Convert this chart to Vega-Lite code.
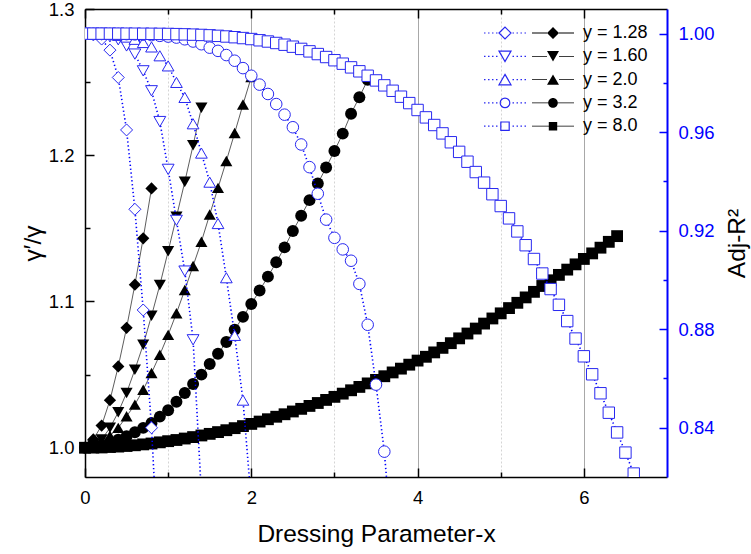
{
"$schema": "https://vega.github.io/schema/vega-lite/v6.json",
"width": 582, "height": 468,
"autosize": {"type": "none"},
"padding": {"left": 85, "top": 9, "right": 84, "bottom": 77},
"config": {"view": {"stroke": null}, "font": "Liberation Sans", "axis": {"labelFont": "Liberation Sans", "titleFont": "Liberation Sans", "titleFontWeight": "normal", "labelFlush": false, "labelOverlap": false}},
"datasets": {
"gam": [
{"s":"y = 1.28","x":0,"v":1.0},{"s":"y = 1.28","x":0.1,"v":1.0057},{"s":"y = 1.28","x":0.2,"v":1.0152},{"s":"y = 1.28","x":0.3,"v":1.0325},{"s":"y = 1.28","x":0.4,"v":1.0556},{"s":"y = 1.28","x":0.5,"v":1.082},{"s":"y = 1.28","x":0.6,"v":1.1115},{"s":"y = 1.28","x":0.7,"v":1.1432},{"s":"y = 1.28","x":0.8,"v":1.1773},
{"s":"y = 1.60","x":0,"v":1.0},{"s":"y = 1.60","x":0.1,"v":1.0015},{"s":"y = 1.60","x":0.2,"v":1.0057},{"s":"y = 1.60","x":0.3,"v":1.0136},{"s":"y = 1.60","x":0.4,"v":1.0243},{"s":"y = 1.60","x":0.5,"v":1.0375},{"s":"y = 1.60","x":0.6,"v":1.0534},{"s":"y = 1.60","x":0.7,"v":1.0704},{"s":"y = 1.60","x":0.8,"v":1.0902},{"s":"y = 1.60","x":0.9,"v":1.1113},{"s":"y = 1.60","x":1.0,"v":1.1343},{"s":"y = 1.60","x":1.1,"v":1.1579},{"s":"y = 1.60","x":1.2,"v":1.1818},{"s":"y = 1.60","x":1.3,"v":1.2068},{"s":"y = 1.60","x":1.4,"v":1.2325},
{"s":"y = 2.0","x":0,"v":1.0},{"s":"y = 2.0","x":0.1,"v":1.0012},{"s":"y = 2.0","x":0.2,"v":1.004},{"s":"y = 2.0","x":0.3,"v":1.0082},{"s":"y = 2.0","x":0.4,"v":1.0136},{"s":"y = 2.0","x":0.5,"v":1.0215},{"s":"y = 2.0","x":0.6,"v":1.0295},{"s":"y = 2.0","x":0.7,"v":1.0397},{"s":"y = 2.0","x":0.8,"v":1.0511},{"s":"y = 2.0","x":0.9,"v":1.0636},{"s":"y = 2.0","x":1.0,"v":1.0772},{"s":"y = 2.0","x":1.1,"v":1.092},{"s":"y = 2.0","x":1.2,"v":1.1079},{"s":"y = 2.0","x":1.3,"v":1.1243},{"s":"y = 2.0","x":1.4,"v":1.1409},{"s":"y = 2.0","x":1.5,"v":1.1595},{"s":"y = 2.0","x":1.6,"v":1.1777},{"s":"y = 2.0","x":1.7,"v":1.1961},{"s":"y = 2.0","x":1.8,"v":1.2152},{"s":"y = 2.0","x":1.9,"v":1.2347},{"s":"y = 2.0","x":2.0,"v":1.2534},
{"s":"y = 3.2","x":0,"v":1.0},{"s":"y = 3.2","x":0.1,"v":1.0006},{"s":"y = 3.2","x":0.2,"v":1.0018},{"s":"y = 3.2","x":0.3,"v":1.0035},{"s":"y = 3.2","x":0.4,"v":1.0055},{"s":"y = 3.2","x":0.5,"v":1.0079},{"s":"y = 3.2","x":0.6,"v":1.0106},{"s":"y = 3.2","x":0.7,"v":1.0136},{"s":"y = 3.2","x":0.8,"v":1.017},{"s":"y = 3.2","x":0.9,"v":1.0213},{"s":"y = 3.2","x":1.0,"v":1.0256},{"s":"y = 3.2","x":1.1,"v":1.0314},{"s":"y = 3.2","x":1.2,"v":1.0375},{"s":"y = 3.2","x":1.3,"v":1.0436},{"s":"y = 3.2","x":1.4,"v":1.05},{"s":"y = 3.2","x":1.5,"v":1.0573},{"s":"y = 3.2","x":1.6,"v":1.0643},{"s":"y = 3.2","x":1.7,"v":1.0723},{"s":"y = 3.2","x":1.8,"v":1.0807},{"s":"y = 3.2","x":1.9,"v":1.0895},{"s":"y = 3.2","x":2.0,"v":1.0983},{"s":"y = 3.2","x":2.1,"v":1.1075},{"s":"y = 3.2","x":2.2,"v":1.117},{"s":"y = 3.2","x":2.3,"v":1.1268},{"s":"y = 3.2","x":2.4,"v":1.137},{"s":"y = 3.2","x":2.5,"v":1.1482},{"s":"y = 3.2","x":2.6,"v":1.1586},{"s":"y = 3.2","x":2.7,"v":1.1693},{"s":"y = 3.2","x":2.8,"v":1.1807},{"s":"y = 3.2","x":2.9,"v":1.1916},{"s":"y = 3.2","x":3.0,"v":1.2029},{"s":"y = 3.2","x":3.1,"v":1.2148},{"s":"y = 3.2","x":3.2,"v":1.2284},{"s":"y = 3.2","x":3.3,"v":1.2397},{"s":"y = 3.2","x":3.4,"v":1.2516},
{"s":"y = 8.0","x":0,"v":1.0},{"s":"y = 8.0","x":0.1,"v":1.0001},{"s":"y = 8.0","x":0.2,"v":1.0002},{"s":"y = 8.0","x":0.3,"v":1.0005},{"s":"y = 8.0","x":0.4,"v":1.0008},{"s":"y = 8.0","x":0.5,"v":1.0012},{"s":"y = 8.0","x":0.6,"v":1.0017},{"s":"y = 8.0","x":0.7,"v":1.0023},{"s":"y = 8.0","x":0.8,"v":1.0029},{"s":"y = 8.0","x":0.9,"v":1.0037},{"s":"y = 8.0","x":1.0,"v":1.0045},{"s":"y = 8.0","x":1.1,"v":1.0053},{"s":"y = 8.0","x":1.2,"v":1.0063},{"s":"y = 8.0","x":1.3,"v":1.0073},{"s":"y = 8.0","x":1.4,"v":1.0084},{"s":"y = 8.0","x":1.5,"v":1.0095},{"s":"y = 8.0","x":1.6,"v":1.0107},{"s":"y = 8.0","x":1.7,"v":1.012},{"s":"y = 8.0","x":1.8,"v":1.0134},{"s":"y = 8.0","x":1.9,"v":1.0148},{"s":"y = 8.0","x":2.0,"v":1.0163},{"s":"y = 8.0","x":2.1,"v":1.0179},{"s":"y = 8.0","x":2.2,"v":1.0195},{"s":"y = 8.0","x":2.3,"v":1.0212},{"s":"y = 8.0","x":2.4,"v":1.0229},{"s":"y = 8.0","x":2.5,"v":1.0248},{"s":"y = 8.0","x":2.6,"v":1.0266},{"s":"y = 8.0","x":2.7,"v":1.0286},{"s":"y = 8.0","x":2.8,"v":1.0306},{"s":"y = 8.0","x":2.9,"v":1.0327},{"s":"y = 8.0","x":3.0,"v":1.0348},{"s":"y = 8.0","x":3.1,"v":1.037},{"s":"y = 8.0","x":3.2,"v":1.0393},{"s":"y = 8.0","x":3.3,"v":1.0416},{"s":"y = 8.0","x":3.4,"v":1.044},{"s":"y = 8.0","x":3.5,"v":1.0464},{"s":"y = 8.0","x":3.6,"v":1.0489},{"s":"y = 8.0","x":3.7,"v":1.0515},{"s":"y = 8.0","x":3.8,"v":1.0541},{"s":"y = 8.0","x":3.9,"v":1.0568},{"s":"y = 8.0","x":4.0,"v":1.0596},{"s":"y = 8.0","x":4.1,"v":1.0622},{"s":"y = 8.0","x":4.2,"v":1.0652},{"s":"y = 8.0","x":4.3,"v":1.0683},{"s":"y = 8.0","x":4.4,"v":1.0715},{"s":"y = 8.0","x":4.5,"v":1.0748},{"s":"y = 8.0","x":4.6,"v":1.0781},{"s":"y = 8.0","x":4.7,"v":1.0815},{"s":"y = 8.0","x":4.8,"v":1.0849},{"s":"y = 8.0","x":4.9,"v":1.0884},{"s":"y = 8.0","x":5.0,"v":1.0919},{"s":"y = 8.0","x":5.1,"v":1.0955},{"s":"y = 8.0","x":5.2,"v":1.0991},{"s":"y = 8.0","x":5.3,"v":1.1028},{"s":"y = 8.0","x":5.4,"v":1.1066},{"s":"y = 8.0","x":5.5,"v":1.1106},{"s":"y = 8.0","x":5.6,"v":1.1145},{"s":"y = 8.0","x":5.7,"v":1.1182},{"s":"y = 8.0","x":5.8,"v":1.1218},{"s":"y = 8.0","x":5.9,"v":1.1254},{"s":"y = 8.0","x":6.0,"v":1.1291},{"s":"y = 8.0","x":6.1,"v":1.1329},{"s":"y = 8.0","x":6.2,"v":1.1368},{"s":"y = 8.0","x":6.3,"v":1.1408},{"s":"y = 8.0","x":6.4,"v":1.1447}
],
"adj": [
{"s":"y = 1.28","x":0,"v":1.0},{"s":"y = 1.28","x":0.1,"v":0.9995},{"s":"y = 1.28","x":0.2,"v":0.9978},{"s":"y = 1.28","x":0.3,"v":0.9933},{"s":"y = 1.28","x":0.4,"v":0.9822},{"s":"y = 1.28","x":0.5,"v":0.9609},{"s":"y = 1.28","x":0.6,"v":0.9287},{"s":"y = 1.28","x":0.7,"v":0.8878},{"s":"y = 1.28","x":0.8,"v":0.84},{"s":"y = 1.28","x":0.9,"v":0.775},
{"s":"y = 1.60","x":0,"v":1.0},{"s":"y = 1.60","x":0.1,"v":0.9999},{"s":"y = 1.60","x":0.2,"v":0.9994},{"s":"y = 1.60","x":0.3,"v":0.9987},{"s":"y = 1.60","x":0.4,"v":0.9975},{"s":"y = 1.60","x":0.5,"v":0.995},{"s":"y = 1.60","x":0.6,"v":0.9917},{"s":"y = 1.60","x":0.7,"v":0.9849},{"s":"y = 1.60","x":0.8,"v":0.9768},{"s":"y = 1.60","x":0.9,"v":0.9643},{"s":"y = 1.60","x":1.0,"v":0.9449},{"s":"y = 1.60","x":1.1,"v":0.9242},{"s":"y = 1.60","x":1.2,"v":0.9036},{"s":"y = 1.60","x":1.3,"v":0.8757},{"s":"y = 1.60","x":1.4,"v":0.813},
{"s":"y = 2.0","x":0,"v":1.0},{"s":"y = 2.0","x":0.1,"v":1.0},{"s":"y = 2.0","x":0.2,"v":0.9999},{"s":"y = 2.0","x":0.3,"v":0.9997},{"s":"y = 2.0","x":0.4,"v":0.9993},{"s":"y = 2.0","x":0.5,"v":0.9986},{"s":"y = 2.0","x":0.6,"v":0.9977},{"s":"y = 2.0","x":0.7,"v":0.9964},{"s":"y = 2.0","x":0.8,"v":0.9946},{"s":"y = 2.0","x":0.9,"v":0.991},{"s":"y = 2.0","x":1.0,"v":0.9869},{"s":"y = 2.0","x":1.1,"v":0.9802},{"s":"y = 2.0","x":1.2,"v":0.9741},{"s":"y = 2.0","x":1.3,"v":0.9634},{"s":"y = 2.0","x":1.4,"v":0.9515},{"s":"y = 2.0","x":1.5,"v":0.9397},{"s":"y = 2.0","x":1.6,"v":0.9229},{"s":"y = 2.0","x":1.7,"v":0.9009},{"s":"y = 2.0","x":1.8,"v":0.8775},{"s":"y = 2.0","x":1.9,"v":0.8512},{"s":"y = 2.0","x":2.0,"v":0.81},
{"s":"y = 3.2","x":0,"v":1.0},{"s":"y = 3.2","x":0.1,"v":1.0},{"s":"y = 3.2","x":0.2,"v":1.0},{"s":"y = 3.2","x":0.3,"v":0.9999},{"s":"y = 3.2","x":0.4,"v":0.9999},{"s":"y = 3.2","x":0.5,"v":0.9998},{"s":"y = 3.2","x":0.6,"v":0.9997},{"s":"y = 3.2","x":0.7,"v":0.9996},{"s":"y = 3.2","x":0.8,"v":0.9994},{"s":"y = 3.2","x":0.9,"v":0.9991},{"s":"y = 3.2","x":1.0,"v":0.9988},{"s":"y = 3.2","x":1.1,"v":0.9984},{"s":"y = 3.2","x":1.2,"v":0.9977},{"s":"y = 3.2","x":1.3,"v":0.9968},{"s":"y = 3.2","x":1.4,"v":0.9957},{"s":"y = 3.2","x":1.5,"v":0.9943},{"s":"y = 3.2","x":1.6,"v":0.993},{"s":"y = 3.2","x":1.7,"v":0.9913},{"s":"y = 3.2","x":1.8,"v":0.989},{"s":"y = 3.2","x":1.9,"v":0.986},{"s":"y = 3.2","x":2.0,"v":0.9829},{"s":"y = 3.2","x":2.1,"v":0.9793},{"s":"y = 3.2","x":2.2,"v":0.9755},{"s":"y = 3.2","x":2.3,"v":0.9714},{"s":"y = 3.2","x":2.4,"v":0.9671},{"s":"y = 3.2","x":2.5,"v":0.962},{"s":"y = 3.2","x":2.6,"v":0.955},{"s":"y = 3.2","x":2.7,"v":0.9458},{"s":"y = 3.2","x":2.8,"v":0.935},{"s":"y = 3.2","x":2.9,"v":0.9245},{"s":"y = 3.2","x":3.0,"v":0.9171},{"s":"y = 3.2","x":3.1,"v":0.9124},{"s":"y = 3.2","x":3.2,"v":0.9078},{"s":"y = 3.2","x":3.3,"v":0.8984},{"s":"y = 3.2","x":3.4,"v":0.8818},{"s":"y = 3.2","x":3.5,"v":0.8575},{"s":"y = 3.2","x":3.6,"v":0.8303},{"s":"y = 3.2","x":3.7,"v":0.79},
{"s":"y = 8.0","x":0,"v":1.0},{"s":"y = 8.0","x":0.1,"v":1.0},{"s":"y = 8.0","x":0.2,"v":1.0},{"s":"y = 8.0","x":0.3,"v":1.0},{"s":"y = 8.0","x":0.4,"v":0.99999},{"s":"y = 8.0","x":0.5,"v":0.99998},{"s":"y = 8.0","x":0.6,"v":0.99997},{"s":"y = 8.0","x":0.7,"v":0.99995},{"s":"y = 8.0","x":0.8,"v":0.99993},{"s":"y = 8.0","x":0.9,"v":0.9999},{"s":"y = 8.0","x":1.0,"v":0.99986},{"s":"y = 8.0","x":1.1,"v":0.9998},{"s":"y = 8.0","x":1.2,"v":0.99971},{"s":"y = 8.0","x":1.3,"v":0.9996},{"s":"y = 8.0","x":1.4,"v":0.99947},{"s":"y = 8.0","x":1.5,"v":0.9993},{"s":"y = 8.0","x":1.6,"v":0.9991},{"s":"y = 8.0","x":1.7,"v":0.99884},{"s":"y = 8.0","x":1.8,"v":0.99855},{"s":"y = 8.0","x":1.9,"v":0.9982},{"s":"y = 8.0","x":2.0,"v":0.9978},{"s":"y = 8.0","x":2.1,"v":0.9973},{"s":"y = 8.0","x":2.2,"v":0.9968},{"s":"y = 8.0","x":2.3,"v":0.9962},{"s":"y = 8.0","x":2.4,"v":0.9955},{"s":"y = 8.0","x":2.5,"v":0.9947},{"s":"y = 8.0","x":2.6,"v":0.9938},{"s":"y = 8.0","x":2.7,"v":0.9928},{"s":"y = 8.0","x":2.8,"v":0.9917},{"s":"y = 8.0","x":2.9,"v":0.9905},{"s":"y = 8.0","x":3.0,"v":0.9892},{"s":"y = 8.0","x":3.1,"v":0.9878},{"s":"y = 8.0","x":3.2,"v":0.9863},{"s":"y = 8.0","x":3.3,"v":0.9847},{"s":"y = 8.0","x":3.4,"v":0.9829},{"s":"y = 8.0","x":3.5,"v":0.981},{"s":"y = 8.0","x":3.6,"v":0.979},{"s":"y = 8.0","x":3.7,"v":0.9768},{"s":"y = 8.0","x":3.8,"v":0.9744},{"s":"y = 8.0","x":3.9,"v":0.9718},{"s":"y = 8.0","x":4.0,"v":0.969},{"s":"y = 8.0","x":4.1,"v":0.966},{"s":"y = 8.0","x":4.2,"v":0.9629},{"s":"y = 8.0","x":4.3,"v":0.9595},{"s":"y = 8.0","x":4.4,"v":0.9559},{"s":"y = 8.0","x":4.5,"v":0.952},{"s":"y = 8.0","x":4.6,"v":0.948},{"s":"y = 8.0","x":4.7,"v":0.9438},{"s":"y = 8.0","x":4.8,"v":0.9395},{"s":"y = 8.0","x":4.9,"v":0.9348},{"s":"y = 8.0","x":5.0,"v":0.93},{"s":"y = 8.0","x":5.1,"v":0.925},{"s":"y = 8.0","x":5.2,"v":0.9197},{"s":"y = 8.0","x":5.3,"v":0.9141},{"s":"y = 8.0","x":5.4,"v":0.9085},{"s":"y = 8.0","x":5.5,"v":0.9026},{"s":"y = 8.0","x":5.6,"v":0.8963},{"s":"y = 8.0","x":5.7,"v":0.8899},{"s":"y = 8.0","x":5.8,"v":0.8833},{"s":"y = 8.0","x":5.9,"v":0.8762},{"s":"y = 8.0","x":6.0,"v":0.869},{"s":"y = 8.0","x":6.1,"v":0.8617},{"s":"y = 8.0","x":6.2,"v":0.854},{"s":"y = 8.0","x":6.3,"v":0.8461},{"s":"y = 8.0","x":6.4,"v":0.8381},{"s":"y = 8.0","x":6.5,"v":0.8299},{"s":"y = 8.0","x":6.6,"v":0.8214},{"s":"y = 8.0","x":6.7,"v":0.812}
]
},
"layer": [
{
"data": {"name": "gam"},
"encoding": {
"x": {"field": "x", "type": "quantitative", "scale": {"domain": [0, 7], "nice": false, "zero": false},
 "axis": {"orient": "bottom", "values": [0,1,2,3,4,5,6], "labelExpr": "datum.value % 2 === 0 ? datum.label : ''", "grid": true,
  "gridColor": {"condition": {"test": "datum.value % 2 === 0", "value": "#a8a8a8"}, "value": "#d4d4d4"},
  "gridDash": {"condition": {"test": "datum.value % 2 === 0", "value": []}, "value": [2, 2]},
  "gridWidth": 1,
  "tickSize": {"condition": {"test": "datum.value % 2 === 0", "value": -9}, "value": -5},
  "tickColor": "black", "tickWidth": 1.5, "domainColor": "black", "domainWidth": 1.5,
  "labelFontSize": 18.5, "labelColor": "black", "labelPadding": 20,
  "title": "Dressing Parameter-x", "titleFontSize": 24.5, "titleColor": "black", "titlePadding": 12}},
"y": {"field": "v", "type": "quantitative", "scale": {"domain": [0.98, 1.3], "nice": false, "zero": false},
 "axis": {"orient": "left", "values": [1.0,1.05,1.1,1.15,1.2,1.25,1.3], "grid": false,
  "labelExpr": "round(datum.value*20) % 2 === 0 ? format(datum.value, '.1f') : ''",
  "tickSize": {"condition": {"test": "round(datum.value*20) % 2 === 0", "value": -9}, "value": -5},
  "tickColor": "black", "tickWidth": 1.5, "domainColor": "black", "domainWidth": 1.5,
  "labelFontSize": 18.5, "labelColor": "black", "labelPadding": 20,
  "title": "γ′/γ", "titleFontSize": 24.5, "titleColor": "black", "titlePadding": 3}}
},
"layer": [
{"mark": {"type": "line", "color": "#333333", "strokeWidth": 0.8}, "encoding": {"detail": {"field": "s", "type": "nominal"}}},
{"mark": {"type": "point", "filled": true, "color": "black", "opacity": 1},
 "encoding": {
  "shape": {"field": "s", "type": "nominal", "scale": {"domain": ["y = 1.28","y = 1.60","y = 2.0","y = 3.2","y = 8.0"], "range": ["diamond","triangle-down","triangle-up","circle","square"]}, "legend": null},
  "size": {"field": "s", "type": "ordinal", "scale": {"domain": ["y = 1.28","y = 1.60","y = 2.0","y = 3.2","y = 8.0"], "range": [150,140,140,100,70]}, "legend": null}}}
]
},
{
"data": {"name": "adj"},
"encoding": {
"x": {"field": "x", "type": "quantitative", "scale": {"domain": [0, 7], "nice": false, "zero": false},
 "axis": {"orient": "top", "values": [0,1,2,3,4,5,6], "labels": false, "grid": false, "title": null,
  "tickSize": {"condition": {"test": "datum.value % 2 === 0", "value": -9}, "value": -5},
  "tickColor": "black", "tickWidth": 1.5, "domainColor": "black", "domainWidth": 1.5}},
"y": {"field": "v", "type": "quantitative", "scale": {"domain": [0.82, 1.01], "nice": false, "zero": false},
 "axis": {"orient": "right", "values": [0.84,0.86,0.88,0.9,0.92,0.94,0.96,0.98,1.0], "grid": false,
  "labelExpr": "round(datum.value*50) % 2 === 0 ? format(datum.value, '.2f') : ''",
  "tickSize": {"condition": {"test": "round(datum.value*50) % 2 === 0", "value": -8}, "value": -4},
  "tickColor": "#0000ff", "tickWidth": 1.5, "domainColor": "#0000ff", "domainWidth": 2,
  "labelFontSize": 18.5, "labelColor": "#0000ff", "labelPadding": 19,
  "title": "Adj-R²", "titleAngle": 270, "titleBaseline": "top", "titleFontSize": 24.5, "titleColor": "black", "titlePadding": 11}}
},
"layer": [
{"mark": {"type": "line", "color": "#0000ff", "strokeWidth": 1.6, "strokeDash": [1.3, 2.6], "clip": true}, "encoding": {"detail": {"field": "s", "type": "nominal"}}},
{"mark": {"type": "point", "filled": false, "fill": "white", "color": "#2828f0", "strokeWidth": 1, "opacity": 1, "clip": true},
 "encoding": {
  "shape": {"field": "s", "type": "nominal", "scale": {"domain": ["y = 1.28","y = 1.60","y = 2.0","y = 3.2","y = 8.0"], "range": ["diamond","triangle-down","triangle-up","circle","square"]}, "legend": null},
  "size": {"field": "s", "type": "ordinal", "scale": {"domain": ["y = 1.28","y = 1.60","y = 2.0","y = 3.2","y = 8.0"], "range": [144,130,130,90,70]}, "legend": null}}}
]
},
{
"data": {"values": []},
"mark": {"type": "point", "filled": false, "color": "#2828f0", "strokeWidth": 1.2, "opacity": 1},
"encoding": {
 "shape": {"field": "s", "type": "nominal",
  "scale": {"domain": ["y = 1.28","y = 1.60","y = 2.0","y = 3.2","y = 8.0"], "range": [
   "M-3.5 0L-3.25 0M-2.83 0L-2.58 0M-2.17 0L-1.92 0M-1.5 0L-1.25 0M1.25 0L1.5 0M1.92 0L2.17 0M2.58 0L2.83 0M3.25 0L3.5 0M-1 0L0 -1L1 0L0 1Z",
   "M-3.5 0L-3.25 0M-2.83 0L-2.58 0M-2.17 0L-1.92 0M-1.5 0L-1.25 0M1.25 0L1.5 0M1.92 0L2.17 0M2.58 0L2.83 0M3.25 0L3.5 0M-1 -0.866L1 -0.866L0 0.866Z",
   "M-3.5 0L-3.25 0M-2.83 0L-2.58 0M-2.17 0L-1.92 0M-1.5 0L-1.25 0M1.25 0L1.5 0M1.92 0L2.17 0M2.58 0L2.83 0M3.25 0L3.5 0M0 -0.866L1 0.866L-1 0.866Z",
   "M-3.5 0L-3.25 0M-2.83 0L-2.58 0M-2.17 0L-1.92 0M-1.5 0L-1.25 0M1.25 0L1.5 0M1.92 0L2.17 0M2.58 0L2.83 0M3.25 0L3.5 0M0.8 0A0.8 0.8 0 1 1 -0.8 0A0.8 0.8 0 1 1 0.8 0Z",
   "M-3.5 0L-3.25 0M-2.83 0L-2.58 0M-2.17 0L-1.92 0M-1.5 0L-1.25 0M1.25 0L1.5 0M1.92 0L2.17 0M2.58 0L2.83 0M3.25 0L3.5 0M-0.7 -0.7L0.7 -0.7L0.7 0.7L-0.7 0.7Z"]},
  "legend": {"orient": "none", "legendX": 411, "legendY": 15, "direction": "vertical", "title": null, "padding": 0,
   "symbolSize": 144, "symbolFillColor": "white", "symbolStrokeColor": "#2828f0", "symbolStrokeWidth": 1.2, "symbolOpacity": 1,
   "labelExpr": "''", "labelFontSize": 18, "rowPadding": 5.3, "labelOffset": 21}}
}
},
{
"data": {"values": []},
"mark": {"type": "point", "filled": true, "color": "black", "opacity": 1},
"encoding": {
 "shape": {"field": "s", "type": "nominal",
  "scale": {"domain": ["y = 1.28","y = 1.60","y = 2.0","y = 3.2","y = 8.0"], "range": [
   "M-3.5 -0.07L-1 -0.07L-1 0.07L-3.5 0.07ZM1 -0.07L3.5 -0.07L3.5 0.07L1 0.07ZM-1 0L0 -1L1 0L0 1Z",
   "M-3.5 -0.07L-1 -0.07L-1 0.07L-3.5 0.07ZM1 -0.07L3.5 -0.07L3.5 0.07L1 0.07ZM-1 -0.866L1 -0.866L0 0.866Z",
   "M-3.5 -0.07L-1 -0.07L-1 0.07L-3.5 0.07ZM1 -0.07L3.5 -0.07L3.5 0.07L1 0.07ZM0 -0.866L1 0.866L-1 0.866Z",
   "M-3.5 -0.07L-0.8 -0.07L-0.8 0.07L-3.5 0.07ZM0.8 -0.07L3.5 -0.07L3.5 0.07L0.8 0.07ZM0.8 0A0.8 0.8 0 1 1 -0.8 0A0.8 0.8 0 1 1 0.8 0Z",
   "M-3.5 -0.07L-0.7 -0.07L-0.7 0.07L-3.5 0.07ZM0.7 -0.07L3.5 -0.07L3.5 0.07L0.7 0.07ZM-0.7 -0.7L0.7 -0.7L0.7 0.7L-0.7 0.7Z"]},
  "legend": {"orient": "none", "legendX": 459, "legendY": 15, "direction": "vertical", "title": null, "padding": 0,
   "symbolSize": 144, "symbolFillColor": "black", "symbolOpacity": 1,
   "labelFontSize": 18, "labelColor": "black", "labelFont": "Liberation Sans", "rowPadding": 5.3, "labelOffset": 21}}
}
}
],
"resolve": {"scale": {"y": "independent", "shape": "independent", "size": "independent"}, "axis": {"x": "independent", "y": "independent"}, "legend": {"shape": "independent"}}
}
